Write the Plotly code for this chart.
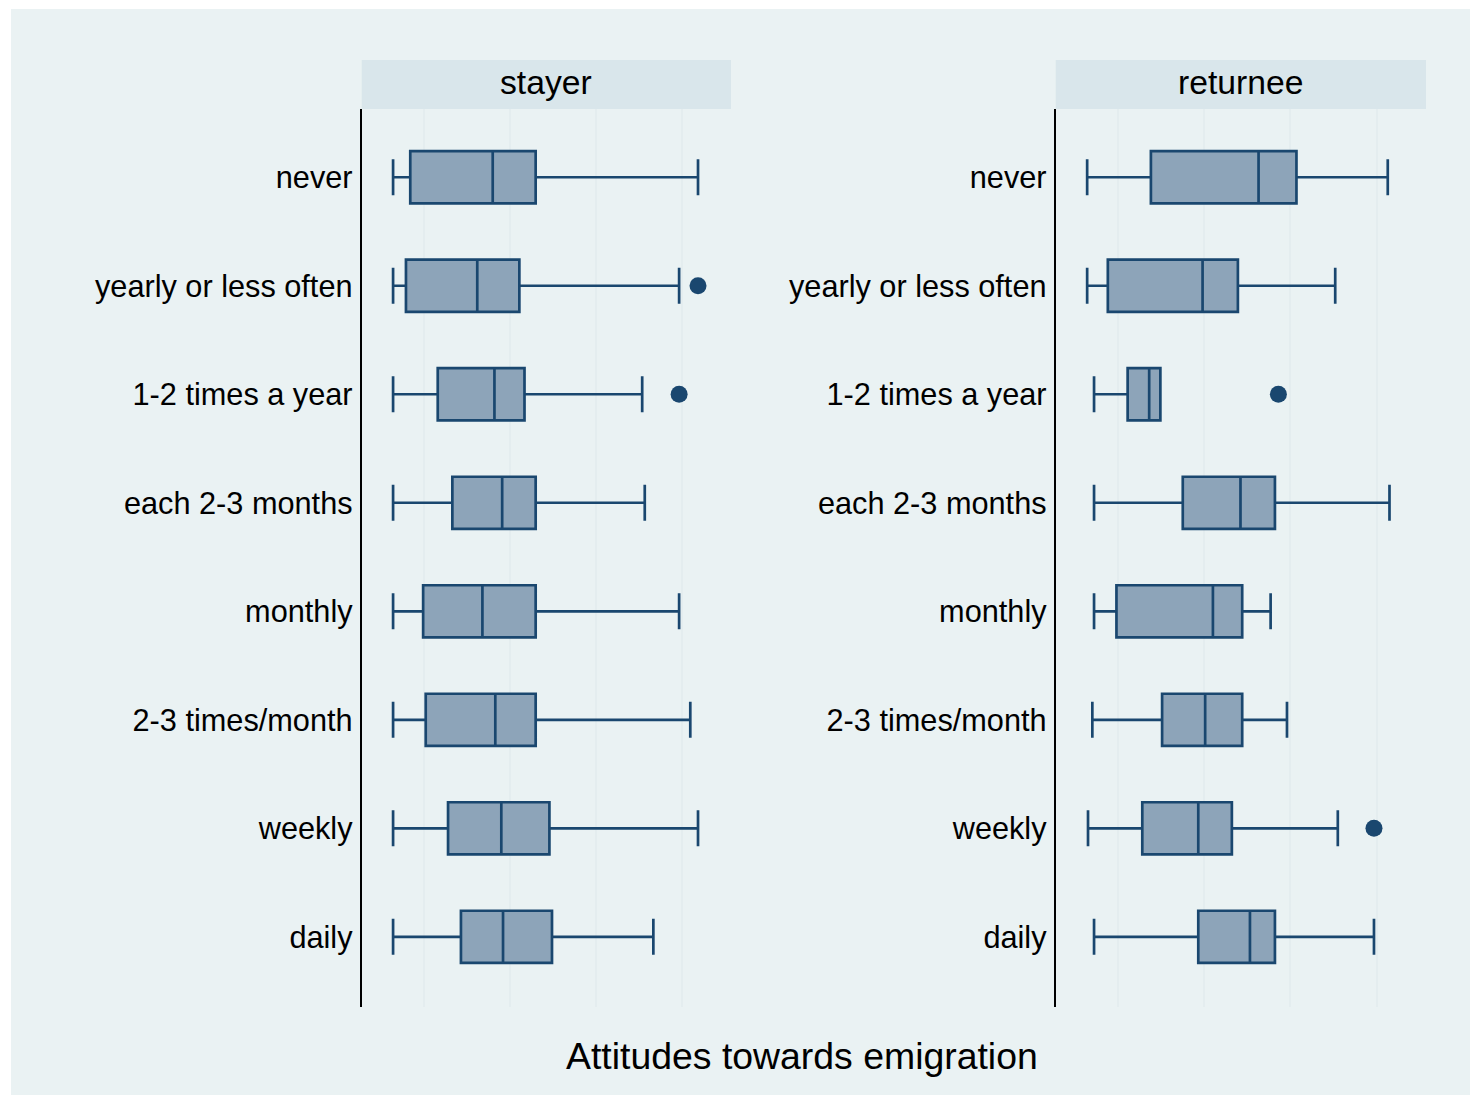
import plotly.graph_objects as go

# Frequency-of-contact categories (top to bottom)
categories = ["never", "yearly or less often", "1-2 times a year", "each 2-3 months",
              "monthly", "2-3 times/month", "weekly", "daily"]
panels = ["stayer", "returnee"]

# Box statistics for "Attitudes towards emigration" by group
stayer_lower = [0.64, 0.64, 0.64, 0.64, 0.64, 0.64, 0.64, 0.64]
stayer_q1 = [0.84, 0.79, 1.16, 1.33, 0.99, 1.02, 1.28, 1.43]
stayer_median = [1.80, 1.62, 1.82, 1.91, 1.68, 1.83, 1.90, 1.92]
stayer_q3 = [2.30, 2.11, 2.17, 2.30, 2.30, 2.30, 2.46, 2.49]
stayer_upper = [4.19, 3.97, 3.54, 3.57, 3.97, 4.10, 4.19, 3.67]
stayer_out_cat = [1, 2]
stayer_out_val = [4.19, 3.97]

returnee_lower = [0.64, 0.64, 0.72, 0.72, 0.72, 0.70, 0.65, 0.72]
returnee_q1 = [1.38, 0.88, 1.11, 1.75, 0.98, 1.51, 1.28, 1.93]
returnee_median = [2.63, 1.98, 1.36, 2.42, 2.10, 2.01, 1.93, 2.53]
returnee_q3 = [3.07, 2.39, 1.49, 2.82, 2.44, 2.44, 2.32, 2.82]
returnee_upper = [4.13, 3.52, 1.49, 4.15, 2.77, 2.96, 3.55, 3.97]
returnee_out_cat = [2, 6]
returnee_out_val = [2.86, 3.97]

grid_vals = [1, 2, 3, 4]
x_title = "Attitudes towards emigration"

W, H = 1470, 1095
NAVY = "#1A476F"
FILL = "#8DA4B9"
BG = "#EAF2F3"
GRID = "#E4EDEF"
STRIP = "#D9E6EB"
FONT = "Liberation Sans, Arial, sans-serif"


def px_x(p):
    return p / W


def px_y(p):
    return 1 - p / H


positions = list(range(len(categories)))
panel_px = [(361.7, 731.0), (1055.7, 1426.0)]
plot_top, plot_bot = 109, 1007

fig = go.Figure()

stats = [
    (stayer_lower, stayer_q1, stayer_median, stayer_q3, stayer_upper, stayer_out_cat, stayer_out_val),
    (returnee_lower, returnee_q1, returnee_median, returnee_q3, returnee_upper, returnee_out_cat, returnee_out_val),
]

for i, (lo, q1, med, q3, up, oc, ov) in enumerate(stats):
    xa = "x" if i == 0 else "x2"
    ya = "y" if i == 0 else "y2"
    fig.add_trace(go.Box(
        orientation="h", y=positions,
        lowerfence=lo, q1=q1, median=med, q3=q3, upperfence=up,
        fillcolor=FILL, line=dict(color=NAVY, width=2.7),
        width=0.48, whiskerwidth=0.69, boxpoints=False,
        xaxis=xa, yaxis=ya, showlegend=False, name=panels[i],
    ))
    fig.add_trace(go.Scatter(
        x=ov, y=oc, mode="markers",
        marker=dict(color=NAVY, size=17, line=dict(width=0)),
        xaxis=xa, yaxis=ya, showlegend=False, hoverinfo="x",
    ))

xrange = [1 - 62.3 / 85.9, 4 + 49.3 / 85.9]
yrange = [7.647, -0.629]
ydom = [px_y(plot_bot), px_y(plot_top)]

axis_common_x = dict(range=xrange, tickvals=grid_vals, showticklabels=False,
                     showgrid=True, gridcolor=GRID, gridwidth=2, zeroline=False,
                     showline=False, ticks="", fixedrange=True)
axis_common_y = dict(range=yrange, tickvals=positions, ticktext=categories,
                     showgrid=False, zeroline=False, showline=True,
                     linecolor="black", linewidth=2, ticks="outside",
                     ticklen=1, tickcolor="rgba(0,0,0,0)",
                     tickfont=dict(family=FONT, size=30.7, color="black"),
                     fixedrange=True)

fig.update_layout(
    width=W, height=H,
    margin=dict(l=0, r=0, t=0, b=0),
    paper_bgcolor="white", plot_bgcolor="white",
    xaxis=dict(domain=[px_x(panel_px[0][0]), px_x(panel_px[0][1])], anchor="y", **axis_common_x),
    xaxis2=dict(domain=[px_x(panel_px[1][0]), px_x(panel_px[1][1])], anchor="y2", **axis_common_x),
    yaxis=dict(domain=ydom, anchor="x", **axis_common_y),
    yaxis2=dict(domain=ydom, anchor="x2", **axis_common_y),
)

shapes = [
    # outer graph region
    dict(type="rect", xref="paper", yref="paper", x0=px_x(11), x1=1.0, y0=0.0, y1=px_y(9),
         fillcolor=BG, line=dict(width=0), layer="below"),
]
annotations = []
for i, (x0, x1) in enumerate(panel_px):
    shapes.append(dict(type="rect", xref="paper", yref="paper",
                       x0=px_x(x0), x1=px_x(x1), y0=px_y(109), y1=px_y(60),
                       fillcolor=STRIP, line=dict(width=0), layer="below"))
    annotations.append(dict(text=panels[i], xref="paper", yref="paper",
                            x=px_x((x0 + x1) / 2), y=px_y(82.5),
                            xanchor="center", yanchor="middle", showarrow=False,
                            font=dict(family=FONT, size=33.7, color="black")))

annotations.append(dict(text=x_title, xref="paper", yref="paper",
                        x=px_x(802), y=px_y(1056), xanchor="center", yanchor="middle",
                        showarrow=False, font=dict(family=FONT, size=37.4, color="black")))

fig.update_layout(shapes=shapes, annotations=annotations)

fig.write_html("out.html")
